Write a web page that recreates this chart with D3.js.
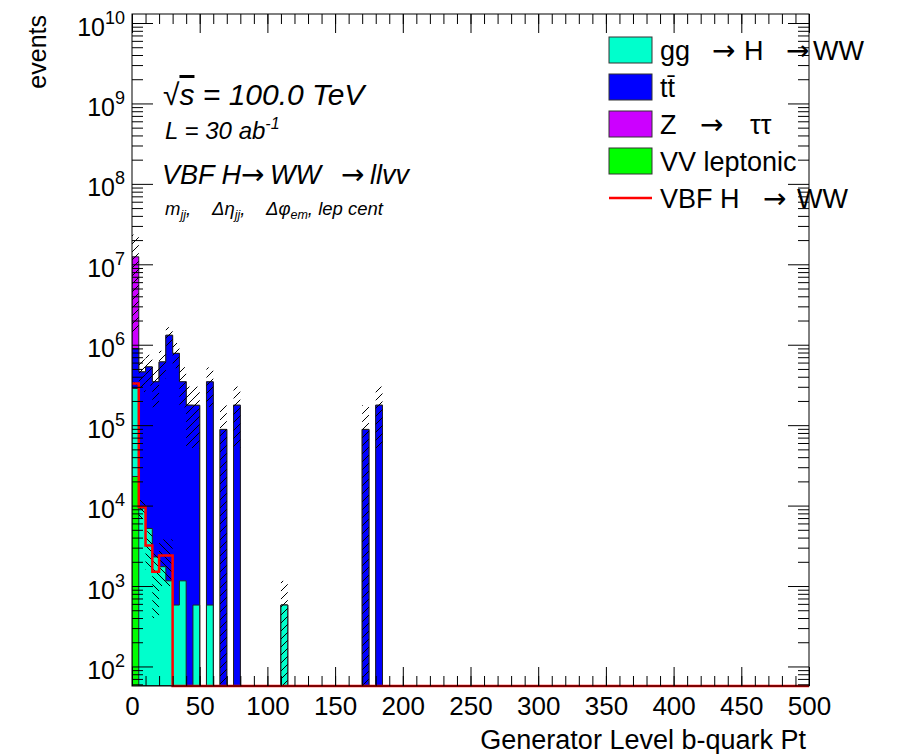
<!DOCTYPE html>
<html>
<head>
<meta charset="utf-8">
<script src="https://cdn.jsdelivr.net/npm/d3@7"></script>
<style>
  body { margin: 0; background: #fff; }
  text { font-family: "Liberation Sans", Arial, sans-serif; fill: #000; }
  .arrow { font-family: "DejaVu Sans", sans-serif; font-style: normal; }
</style>
</head>
<body>
<svg width="899" height="754"></svg>
<script>
// bins of 5 GeV from 0 to 500, listed from the first bin; missing bins are empty
const binWidth = 5;
const nBins = 100;
const vvLeptonic = [2.3e4];
const ggH = [2.63e5, 9.3e3, 5.2e3, 2.3e3, 1.74e3, 1.16e3, 580, 1.16e3, 0, 580, 0, 580,
             0, 0, 0, 0, 0, 0, 0, 0, 0, 0, 580];
const ttbar = [6.1e5, 4.5e5, 5.25e5, 3.44e5, 6.1e5, 1.31e6, 7.8e5, 3.45e5, 1.77e5, 1.76e5, 0, 3.45e5,
               0, 8.85e4, 0, 1.77e5, 0, 0, 0, 0, 0, 0, 0, 0, 0, 0, 0, 0, 0, 0, 0, 0, 0, 0,
               8.85e4, 0, 1.77e5];
const zTauTau = [1.15e7];
const vbfHWW = [3.3e5, 9.6e3, 3.2e3, 1.5e3, 2.4e3, 2.4e3];
const statErr = [1.1e7, 2.0e5, 2.2e5, 1.8e5, 2.3e5, 3.4e5, 2.7e5, 1.8e5, 1.25e5, 1.25e5, 0, 1.77e5,
                 0, 8.85e4, 0, 1.25e5, 0, 0, 0, 0, 0, 0, 580, 0, 0, 0, 0, 0, 0, 0, 0, 0, 0, 0,
                 8.85e4, 0, 1.25e5];
const vbfStatErr = [1.6e4, 2.8e3, 1.6e3, 1.1e3, 1.4e3, 1.4e3];
const xMajorTicks = [0, 50, 100, 150, 200, 250, 300, 350, 400, 450, 500];
const yDecades = [2, 3, 4, 5, 6, 7, 8, 9, 10];

const stackOrder = [
  { name: 'VV leptonic', values: vvLeptonic, color: '#00ff00' },
  { name: 'gg H', values: ggH, color: '#00ffcc' },
  { name: 'ttbar', values: ttbar, color: '#0000ff' },
  { name: 'Z tautau', values: zTauTau, color: '#cc00ff' }
];

const svg = d3.select('svg');
const fLeft = 132, fRight = 809, fTop = 14, fBottom = 686;

const x = d3.scaleLinear().domain([0, 500]).range([fLeft, fRight]);
const y = d3.scaleLog().domain([Math.pow(10, 1.757), Math.pow(10, 10.112)]).range([fBottom, fTop]);
const yv = v => v > 0 ? Math.min(fBottom, Math.max(fTop, y(v))) : fBottom;
const val = (arr, i) => arr[i] || 0;

svg.append('defs').html(`
  <clipPath id="plot"><rect x="${fLeft}" y="${fTop}" width="${fRight - fLeft}" height="${fBottom - fTop}"/></clipPath>
  <pattern id="hatch" width="8" height="8" patternUnits="userSpaceOnUse">
    <path d="M0,8 L8,0 M-2,2 L2,-2 M6,10 L10,6" stroke="#000" stroke-width="1"/>
  </pattern>
  <pattern id="hatchBack" width="8" height="8" patternUnits="userSpaceOnUse">
    <path d="M0,0 L8,8 M-2,6 L2,10 M6,-2 L10,2" stroke="#000" stroke-width="1"/>
  </pattern>`);

// cumulative sums, drawn from the top down like a THStack
const cumulative = [];
let running = d3.range(nBins).map(() => 0);
stackOrder.forEach(s => {
  running = running.map((r, i) => r + val(s.values, i));
  cumulative.push({ color: s.color, sums: running.slice() });
});

function stepPoints(sums) {
  const pts = [];
  sums.forEach((v, i) => {
    pts.push([x(i * binWidth), yv(v)]);
    pts.push([x((i + 1) * binWidth), yv(v)]);
  });
  return pts;
}

const plot = svg.append('g').attr('clip-path', 'url(#plot)');
const line = d3.line();

cumulative.slice().reverse().forEach(c => {
  const pts = stepPoints(c.sums);
  pts.unshift([x(0), fBottom]);
  pts.push([x(500), fBottom]);
  plot.append('path')
      .attr('d', line(pts) + 'Z')
      .attr('fill', c.color)
      .attr('stroke', '#222')
      .attr('stroke-width', 1);
});

// hatched stat error bands
function band(values, errs, pattern) {
  plot.append('g').selectAll('rect')
      .data(d3.range(nBins).filter(i => val(errs, i) > 0))
      .enter().append('rect')
      .attr('x', i => x(i * binWidth))
      .attr('width', x(binWidth) - x(0))
      .attr('y', i => yv(values[i] + errs[i]))
      .attr('height', i => yv(values[i] - errs[i]) - yv(values[i] + errs[i]))
      .attr('fill', `url(#${pattern})`);
}
const total = cumulative[cumulative.length - 1].sums;
band(total, statErr, 'hatch');

const sig = d3.range(nBins).map(i => val(vbfHWW, i));
band(sig, vbfStatErr, 'hatchBack');

// signal line
svg.append('path')
   .attr('d', line(stepPoints(sig)))
   .attr('fill', 'none')
   .attr('stroke', '#ff0000')
   .attr('stroke-width', 2.5);

// axes
const fontSize = 26;
function clean(g) { g.select('.domain').remove(); g.selectAll('.tick line').attr('stroke', '#000'); }

const xMinor = d3.range(0, 501, 10);
svg.append('g').attr('transform', `translate(0,${fBottom})`)
   .call(d3.axisBottom(x).tickValues(xMinor).tickSize(-10).tickFormat(''))
   .call(clean);
svg.append('g').attr('transform', `translate(0,${fBottom})`)
   .call(d3.axisBottom(x).tickValues(xMajorTicks).tickSize(-19).tickPadding(11).tickFormat(d3.format('d')))
   .call(clean)
   .selectAll('text').attr('font-size', fontSize).attr('font-family', '"Liberation Sans", Arial, sans-serif');
svg.append('g').attr('transform', `translate(0,${fTop})`)
   .call(d3.axisTop(x).tickValues(xMinor).tickSize(-10).tickFormat(''))
   .call(clean);
svg.append('g').attr('transform', `translate(0,${fTop})`)
   .call(d3.axisTop(x).tickValues(xMajorTicks).tickSize(-19).tickFormat(''))
   .call(clean);

const yMajor = yDecades.map(e => Math.pow(10, e));
const yMinor = [];
d3.range(1, 11).forEach(e => d3.range(2, 10).forEach(k => yMinor.push(k * Math.pow(10, e))));
const yMinorIn = yMinor.filter(v => y(v) >= fTop && y(v) <= fBottom);

svg.append('g').attr('transform', `translate(${fLeft},0)`)
   .call(d3.axisLeft(y).tickValues(yMinorIn).tickSize(-11).tickFormat(''))
   .call(clean);
const yLab = svg.append('g').attr('transform', `translate(${fLeft},0)`)
   .call(d3.axisLeft(y).tickValues(yMajor).tickSize(-21).tickPadding(7).tickFormat(''))
   .call(clean);
yLab.selectAll('.tick text').each(function(d) {
  const t = d3.select(this)
    .attr('font-size', 25)
    .attr('font-family', '"Liberation Sans", Arial, sans-serif')
    .attr('dy', null)
    .attr('y', 12);
  t.append('tspan').text('10');
  t.append('tspan').attr('font-size', 18).attr('dy', -12).text(Math.round(Math.log10(d)));
});
svg.append('g').attr('transform', `translate(${fRight},0)`)
   .call(d3.axisRight(y).tickValues(yMinorIn).tickSize(-11).tickFormat(''))
   .call(clean);
svg.append('g').attr('transform', `translate(${fRight},0)`)
   .call(d3.axisRight(y).tickValues(yMajor).tickSize(-21).tickFormat(''))
   .call(clean);

svg.append('rect')
   .attr('x', fLeft).attr('y', fTop)
   .attr('width', fRight - fLeft).attr('height', fBottom - fTop)
   .attr('fill', 'none').attr('stroke', '#000').attr('stroke-width', 1);

// axis titles
svg.append('text')
   .attr('x', 806).attr('y', 749)
   .attr('text-anchor', 'end')
   .attr('font-size', 27)
   .text('Generator Level b-quark Pt');
svg.append('text')
   .attr('transform', 'translate(46,15) rotate(-90)')
   .attr('text-anchor', 'end')
   .attr('font-size', 25)
   .text('events');

// labels inside the frame
const info = svg.append('g').attr('font-style', 'italic');
const l1 = info.append('text').attr('x', 163).attr('y', 105).attr('font-size', 30);
l1.append('tspan').attr('font-style', 'normal').text('√');
l1.append('tspan').attr('text-decoration', 'overline').text('s');
l1.append('tspan').text(' = 100.0 TeV');

const l2 = info.append('text').attr('x', 165).attr('y', 139).attr('font-size', 24);
l2.append('tspan').text('L = 30 ab');
l2.append('tspan').attr('font-size', 16).attr('dy', -10).text('-1');

const l3 = info.append('text').attr('y', 184).attr('font-size', 27);
l3.append('tspan').attr('x', 162).text('VBF H');
l3.append('tspan').attr('x', 241).attr('class', 'arrow').attr('font-size', 28).text('→');
l3.append('tspan').attr('x', 270).text('WW');
l3.append('tspan').attr('x', 341).attr('class', 'arrow').attr('font-size', 28).text('→');
l3.append('tspan').attr('x', 370).text('llvv');

const l4 = info.append('text').attr('y', 215).attr('font-size', 18.5);
l4.append('tspan').attr('x', 165).text('m');
l4.append('tspan').attr('font-size', 12.5).attr('dy', 4).text('jj');
l4.append('tspan').attr('dy', -4).text(',');
l4.append('tspan').attr('x', 212).text('Δη');
l4.append('tspan').attr('font-size', 12.5).attr('dy', 4).text('jj');
l4.append('tspan').attr('dy', -4).text(',');
l4.append('tspan').attr('x', 266).text('Δφ');
l4.append('tspan').attr('font-size', 12.5).attr('dy', 4).text('em');
l4.append('tspan').attr('dy', -4).text(', lep cent');

// legend
const legendRows = [
  { color: '#00ffcc', parts: [[660, 'gg'], [712, '→', 1], [744, 'H'], [786, '→', 1], [813, 'WW']] },
  { color: '#0000ff', parts: [[660, 'tt\u0304']] },
  { color: '#cc00ff', parts: [[660, 'Z'], [700, '→', 1], [750, 'ττ']] },
  { color: '#00ff00', parts: [[660, 'VV leptonic']] },
  { line: '#ff0000', parts: [[660, 'VBF H'], [763, '→', 1], [797, 'WW']] }
];
const legend = svg.append('g');
legendRows.forEach((r, i) => {
  const cy = 50 + i * 37;
  if (r.color) {
    legend.append('rect')
      .attr('x', 609).attr('y', cy - 13).attr('width', 43).attr('height', 26)
      .attr('fill', r.color).attr('stroke', '#333').attr('stroke-width', 1);
  } else {
    legend.append('line')
      .attr('x1', 609).attr('x2', 652).attr('y1', cy).attr('y2', cy)
      .attr('stroke', r.line).attr('stroke-width', 2.5);
  }
  const t = legend.append('text').attr('y', cy + 10).attr('font-size', 27);
  r.parts.forEach(p => {
    const s = t.append('tspan').attr('x', p[0]).text(p[1]);
    if (p[2]) s.attr('class', 'arrow').attr('font-size', 28);
  });
});
</script>
</body>
</html>
